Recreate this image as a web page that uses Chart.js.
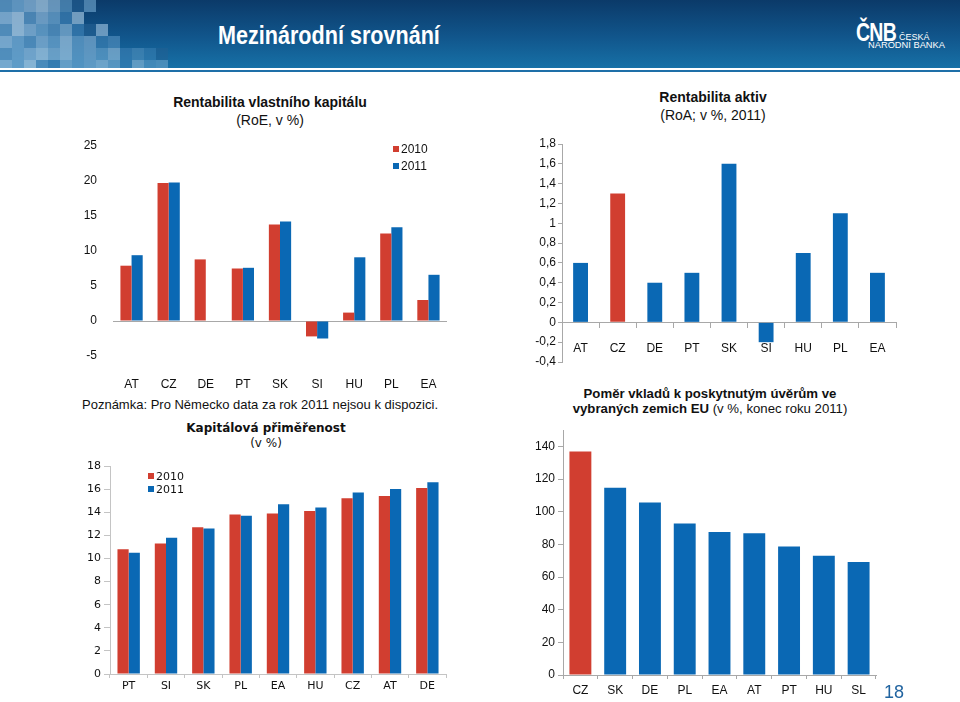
<!DOCTYPE html>
<html lang="cs">
<head>
<meta charset="utf-8">
<title>Mezinárodní srovnání</title>
<script src="https://cdn.jsdelivr.net/npm/chart.js@4.4.1/dist/chart.umd.min.js"></script>
<style>
  body { margin: 0; width: 960px; height: 702px; background: #fff; position: relative; overflow: hidden;
         font-family: "Liberation Sans", Arial, sans-serif; color: #111; }
  #banner { position: absolute; left: 0; top: 0; width: 960px; height: 68px; overflow: hidden;
            background: linear-gradient(to bottom, #0b3a69 0%, #11568c 55%, #1771a7 100%); }
  #rule { position: absolute; left: 0; top: 70px; width: 960px; height: 2px; background: #1e6fa8; }
  .cell { position: absolute; width: 12px; height: 12px; }
  #pageTitle { position: absolute; left: 218px; top: 20px; font: bold 26px "Liberation Sans", Arial, sans-serif;
               color: #fff; white-space: nowrap; transform: scaleX(0.83); transform-origin: left top; }
  #logo1 { position: absolute; left: 856px; top: 17px; font: bold 26px "Liberation Sans", sans-serif; color: #fff;
           letter-spacing: -1px; transform: scaleX(0.75); transform-origin: left top; }
  #logo2 { position: absolute; left: 899px; top: 32px; font: 9px "Liberation Sans", sans-serif; color: #fff; }
  #logo3 { position: absolute; left: 868px; top: 40px; font: 9.3px "Liberation Sans", sans-serif; color: #fff; }
  .box { position: absolute; }
  .ttl { position: absolute; text-align: center; font-size: 14px; line-height: 18px; white-space: nowrap; }
  .legend { position: absolute; font-size: 12px; line-height: 17px; }
  .legend span.sq { display: inline-block; width: 6px; height: 6px; margin-right: 2px; vertical-align: 1px; }
  #note { position: absolute; left: 82px; top: 397px; font-size: 13px; white-space: nowrap; }
  #pageNo { position: absolute; left: 884px; top: 682px; font-size: 18px; color: #2164a0; }
</style>
</head>
<body>
<div id="banner"></div>
<div id="rule"></div>
<div id="pageTitle">Mezinárodní srovnání</div>
<div id="logo1">ČNB</div>
<div id="logo2">ČESKÁ</div>
<div id="logo3">NÁRODNÍ BANKA</div>

<div class="ttl" style="left:120px; top:93px; width:300px;"><b>Rentabilita vlastního kapitálu</b><br>(RoE, v %)</div>
<div class="ttl" style="left:563px; top:88px; width:300px;"><b>Rentabilita aktiv</b><br>(RoA; v %, 2011)</div>
<div class="ttl" style="left:136px; top:421px; width:260px; font-family:'DejaVu Sans'; font-size:12px; line-height:15px;"><b>Kapitálová přiměřenost</b><br>(v %)</div>
<div class="ttl" style="left:530px; top:386px; width:360px; font-size:13.2px; line-height:15px;"><b>Poměr vkladů k poskytnutým úvěrům ve<br>vybraných zemich EU</b> (v %, konec roku 2011)</div>
<div id="note">Poznámka: Pro Německo data za rok 2011 nejsou k dispozici.</div>

<div class="box" style="left:40px; top:136px; width:420px; height:262px;"><canvas id="roe" width="420" height="262"></canvas></div>
<div class="box" style="left:500px; top:134px; width:410px; height:240px;"><canvas id="roa" width="410" height="240"></canvas></div>
<div class="box" style="left:60px; top:456px; width:400px; height:246px;"><canvas id="car" width="400" height="246"></canvas></div>
<div class="box" style="left:500px; top:420px; width:390px; height:282px;"><canvas id="dl" width="390" height="282"></canvas></div>

<div class="legend" id="legRoe" style="left:393px; top:141px;"></div>
<div class="legend" id="legCar" style="left:148px; top:470px; font-family:'DejaVu Sans'; font-size:11px; line-height:13px;"></div>
<div id="pageNo">18</div>

<script>
// Rentabilita vlastního kapitálu (RoE, v %)
const roeCategories = ['AT', 'CZ', 'DE', 'PT', 'SK', 'SI', 'HU', 'PL', 'EA'];
const roe2010 = [7.9, 19.7, 8.8, 7.5, 13.8, -2.2, 1.2, 12.5, 3.0];
const roe2011 = [9.4, 19.8, null, 7.6, 14.2, -2.5, 9.1, 13.4, 6.6];
const roeTicks = [-5, 0, 5, 10, 15, 20, 25];

// Rentabilita aktiv (RoA; v %, 2011)
const roaCategories = ['AT', 'CZ', 'DE', 'PT', 'SK', 'SI', 'HU', 'PL', 'EA'];
const roaValues = [0.6, 1.3, 0.4, 0.5, 1.6, -0.2, 0.7, 1.1, 0.5];
const roaTicks = [-0.4, -0.2, 0, 0.2, 0.4, 0.6, 0.8, 1, 1.2, 1.4, 1.6, 1.8];

// Kapitálová přiměřenost (v %)
const carCategories = ['PT', 'SI', 'SK', 'PL', 'EA', 'HU', 'CZ', 'AT', 'DE'];
const car2010 = [10.8, 11.3, 12.7, 13.8, 13.9, 14.1, 15.2, 15.4, 16.1];
const car2011 = [10.5, 11.8, 12.6, 13.7, 14.7, 14.4, 15.7, 16.0, 16.6];
const carTicks = [0, 2, 4, 6, 8, 10, 12, 14, 16, 18];

// Poměr vkladů k úvěrům (v %, konec roku 2011)
const dlCategories = ['CZ', 'SK', 'DE', 'PL', 'EA', 'AT', 'PT', 'HU', 'SL'];
const dlValues = [137, 114.7, 105.7, 92.9, 87.6, 86.9, 78.8, 73.1, 69.2];
const dlTicks = [0, 20, 40, 60, 80, 100, 120, 140];

const seriesNames = ['2010', '2011'];
const highlight = 'CZ';

const RED = '#d13e30';
const BLUE = '#0a68b4';
const AXIS = '#a8a8a8';

Chart.defaults.animation = false;
Chart.defaults.font.family = '"Liberation Sans", Arial, sans-serif';
Chart.defaults.color = '#1a1a1a';

// záhlaví - mozaika čtverečků
const mosaicRows = [
  '25343215',
  '3423564',
  '243523614',
  '3523545362',
  '25343453546261',
  '35426353436453'
];
const mosaicColors = { '1': '#245f92', '2': '#5a95c2', '3': '#86b3d6', '4': '#a3c6e1', '5': '#6fa6cf', '6': '#3f82b6' };
const banner = document.getElementById('banner');
mosaicRows.forEach((row, r) => {
  row.split('').forEach((c, i) => {
    const d = document.createElement('div');
    d.className = 'cell';
    d.style.left = (i * 12) + 'px';
    d.style.top = (r * 12) + 'px';
    d.style.background = mosaicColors[c];
    d.style.opacity = 0.85 - i * 0.03;
    banner.appendChild(d);
  });
});

function buildLegend(id) {
  const el = document.getElementById(id);
  [RED, BLUE].forEach((col, i) => {
    const row = document.createElement('div');
    row.innerHTML = '<span class="sq" style="background:' + col + '"></span>' + seriesNames[i];
    el.appendChild(row);
  });
}
buildLegend('legRoe');
buildLegend('legCar');

function fmtComma(v) {
  return (Math.round(v * 10) / 10).toString().replace('.', ',');
}

function fixedTicks(list) {
  return scale => { scale.ticks = list.map(v => ({ value: v })); };
}

// RoE
new Chart(document.getElementById('roe'), {
  type: 'bar',
  data: {
    labels: roeCategories,
    datasets: [
      { label: seriesNames[0], data: roe2010, backgroundColor: RED },
      { label: seriesNames[1], data: roe2011, backgroundColor: BLUE }
    ]
  },
  options: {
    responsive: false,
    categoryPercentage: 0.6,
    barPercentage: 1,
    layout: { padding: { top: 10, right: 13 } },
    plugins: { legend: { display: false }, tooltip: { enabled: false } },
    scales: {
      x: {
        grid: { display: false, drawTicks: false },
        border: { display: false },
        ticks: { font: { size: 12 }, padding: 21, color: '#111' },
        afterFit: s => { s.height = 42; }
      },
      y: {
        min: roeTicks[0], max: roeTicks[roeTicks.length - 1],
        afterBuildTicks: fixedTicks(roeTicks),
        grid: { tickLength: 14, tickColor: 'transparent', color: c => c.tick && c.tick.value === 0 ? AXIS : 'transparent' },
        border: { display: false },
        ticks: { font: { size: 12 }, padding: 2, color: '#111' },
        afterFit: s => { s.width = 73; }
      }
    }
  }
});

// RoA
new Chart(document.getElementById('roa'), {
  type: 'bar',
  data: {
    labels: roaCategories,
    datasets: [{
      data: roaValues,
      backgroundColor: roaCategories.map(c => c === highlight ? RED : BLUE)
    }]
  },
  options: {
    responsive: false,
    categoryPercentage: 0.4,
    barPercentage: 1,
    layout: { padding: { top: 10, right: 14, bottom: 12 } },
    plugins: { legend: { display: false }, tooltip: { enabled: false } },
    scales: {
      x: {
        position: { y: 0 },
        grid: { drawOnChartArea: false, tickLength: 5, color: AXIS },
        border: { color: AXIS },
        ticks: { font: { size: 12 }, padding: 14, color: '#111' },
        afterFit: s => { s.height = 0; }
      },
      y: {
        min: roaTicks[0], max: roaTicks[roaTicks.length - 1],
        afterBuildTicks: fixedTicks(roaTicks),
        grid: { drawOnChartArea: false, tickLength: 4, color: AXIS },
        border: { color: AXIS },
        ticks: { font: { size: 12 }, padding: 2, color: '#111', callback: v => fmtComma(v) },
        afterFit: s => { s.width = 62; }
      }
    }
  }
});

// Kapitálová přiměřenost
new Chart(document.getElementById('car'), {
  type: 'bar',
  data: {
    labels: carCategories,
    datasets: [
      { label: seriesNames[0], data: car2010, backgroundColor: RED },
      { label: seriesNames[1], data: car2011, backgroundColor: BLUE }
    ]
  },
  options: {
    responsive: false,
    categoryPercentage: 0.6,
    barPercentage: 1,
    layout: { padding: { top: 10, right: 14 } },
    plugins: { legend: { display: false }, tooltip: { enabled: false } },
    scales: {
      x: {
        grid: { drawOnChartArea: false, tickLength: 4, color: '#c4c4c4' },
        border: { color: '#c4c4c4' },
        ticks: { font: { size: 11, family: 'DejaVu Sans' }, padding: 2, color: '#111' },
        afterFit: s => { s.height = 28; }
      },
      y: {
        min: carTicks[0], max: carTicks[carTicks.length - 1],
        afterBuildTicks: fixedTicks(carTicks),
        grid: { drawOnChartArea: false, tickLength: 6, color: '#c4c4c4' },
        border: { color: '#c4c4c4' },
        ticks: { font: { size: 11, family: 'DejaVu Sans' }, padding: 3, color: '#111' },
        afterFit: s => { s.width = 50; }
      }
    }
  }
});

// Poměr vkladů k úvěrům
new Chart(document.getElementById('dl'), {
  type: 'bar',
  data: {
    labels: dlCategories,
    datasets: [{
      data: dlValues,
      backgroundColor: dlCategories.map(c => c === highlight ? RED : BLUE)
    }]
  },
  options: {
    responsive: false,
    categoryPercentage: 0.63,
    barPercentage: 1,
    layout: { padding: { top: 10, right: 14 } },
    plugins: { legend: { display: false }, tooltip: { enabled: false } },
    scales: {
      x: {
        grid: { drawOnChartArea: false, tickLength: 4, color: AXIS },
        border: { color: AXIS },
        ticks: { font: { size: 12 }, padding: 4, color: '#111' },
        afterFit: s => { s.height = 27; }
      },
      y: {
        min: 0, max: 150,
        afterBuildTicks: fixedTicks(dlTicks),
        grid: { drawOnChartArea: false, tickLength: 5, color: AXIS },
        border: { color: AXIS },
        ticks: { font: { size: 12 }, padding: 3, color: '#111' },
        afterFit: s => { s.width = 63; }
      }
    }
  }
});
</script>
</body>
</html>
